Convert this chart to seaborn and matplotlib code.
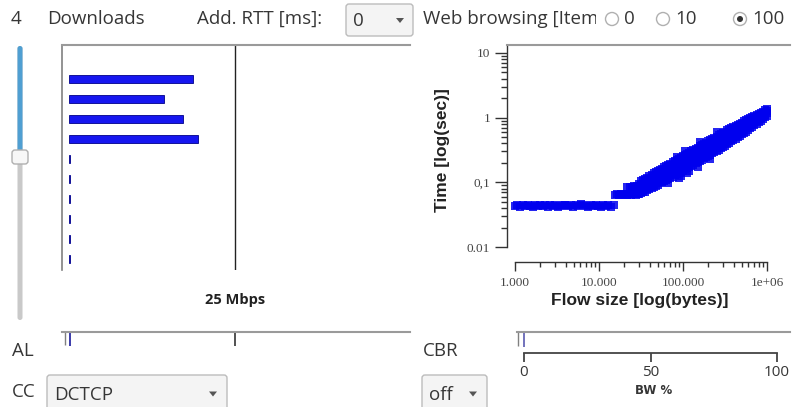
import matplotlib.pyplot as plt
import matplotlib.patches as mpatches
from matplotlib.ticker import FixedLocator, NullFormatter
import pandas as pd
import seaborn as sns

# ---- data ----
# download flows (Mbps), one bar per flow
flow_names = ["d1", "d2", "d3", "d4", "d5", "d6", "d7", "d8", "d9", "d10"]
flow_rates = [18.7, 14.3, 17.2, 19.4, 0.3, 0.3, 0.3, 0.3, 0.3, 0.3]
link_capacity = 25       # Mbps
al_value = 0.25          # AL marker (Mbps scale)
cbr_value = 0            # CBR marker (BW %)
bw_ticks = [0, 50, 100]

# web browsing: flow size (bytes) vs completion time (sec)
flat_x = [1000, 1070, 1150, 1230, 1320, 1410, 1510, 1620, 1740, 1860,
          2000, 2140, 2290, 2460, 2630, 2820, 3020, 3240, 3470, 3720,
          3990, 4270, 4580, 4910, 5260, 5640, 6040, 6470, 6940, 7440,
          7970, 8540, 9160, 9810, 10500, 11300, 12100, 12900, 13900, 14900]
flat_y = [0.043, 0.044, 0.042, 0.044, 0.043, 0.045, 0.043, 0.042, 0.044, 0.043,
          0.044, 0.043, 0.045, 0.042, 0.044, 0.043, 0.044, 0.042, 0.043, 0.045,
          0.044, 0.043, 0.044, 0.042, 0.045, 0.043, 0.047, 0.044, 0.043, 0.042,
          0.044, 0.043, 0.045, 0.043, 0.042, 0.044, 0.043, 0.044, 0.042, 0.045]
step1_x = [15500, 16400, 17300, 18300, 19400, 20500, 21700, 23000, 24300, 25700, 27200, 28800]
step1_y = [0.064, 0.066, 0.064, 0.065, 0.063, 0.066, 0.064, 0.065, 0.064, 0.066, 0.064, 0.065]
step2_x = [21800, 23100, 24500, 26000, 27500]
step2_y = [0.084, 0.086, 0.085, 0.087, 0.085]
rise_cols = [28200, 31600, 35500, 39800, 44700, 50100, 56200, 63100, 70800, 79400,
             89100, 100000, 112000, 126000, 141000, 158000, 178000, 200000, 224000, 251000,
             282000, 316000, 355000, 398000, 447000, 501000, 562000, 631000, 708000, 794000,
             891000, 1000000]
rise_times = [
    [0.070, 0.078, 0.088],
    [0.068, 0.080, 0.092, 0.105],
    [0.072, 0.086, 0.098, 0.112],
    [0.078, 0.092, 0.108, 0.124],
    [0.085, 0.100, 0.118, 0.138],
    [0.092, 0.108, 0.128, 0.150],
    [0.100, 0.118, 0.140, 0.163],
    [0.108, 0.128, 0.152, 0.178],
    [0.118, 0.140, 0.166, 0.195],
    [0.128, 0.152, 0.180, 0.212],
    [0.140, 0.165, 0.196, 0.232, 0.118],
    [0.152, 0.180, 0.214, 0.252],
    [0.165, 0.196, 0.234, 0.276, 0.140],
    [0.180, 0.214, 0.256, 0.300],
    [0.196, 0.234, 0.280, 0.328],
    [0.214, 0.256, 0.305, 0.360, 0.420],
    [0.234, 0.280, 0.334, 0.392],
    [0.256, 0.305, 0.365, 0.430],
    [0.280, 0.334, 0.400, 0.470],
    [0.305, 0.365, 0.435, 0.510, 0.600],
    [0.335, 0.400, 0.475, 0.560],
    [0.370, 0.440, 0.520, 0.610],
    [0.410, 0.480, 0.570, 0.660],
    [0.450, 0.530, 0.620, 0.720],
    [0.500, 0.580, 0.680, 0.780],
    [0.550, 0.640, 0.740, 0.840],
    [0.610, 0.700, 0.810, 0.910],
    [0.680, 0.770, 0.880, 0.980],
    [0.760, 0.850, 0.960, 1.060],
    [0.850, 0.940, 1.040, 1.140],
    [0.950, 1.040, 1.140, 1.230],
    [1.080, 1.170, 1.270, 1.360],
]
# flows that fall between the columns above
mid_cols = [29900, 33500, 37600, 42200, 47300, 53100, 59600, 66800, 75000, 84100,
            94400, 106000, 119000, 133000, 150000, 168000, 188000, 211000, 237000, 266000,
            298000, 335000, 376000, 422000, 473000, 531000, 596000, 668000, 750000, 841000,
            944000]
mid_times = [
    [0.066, 0.075, 0.084, 0.095],
    [0.070, 0.083, 0.095, 0.108],
    [0.075, 0.089, 0.103, 0.118],
    [0.081, 0.096, 0.113, 0.131],
    [0.088, 0.104, 0.123, 0.144],
    [0.096, 0.113, 0.134, 0.157],
    [0.104, 0.123, 0.146, 0.171],
    [0.113, 0.134, 0.159, 0.186, 0.098],
    [0.123, 0.146, 0.173, 0.204],
    [0.134, 0.158, 0.188, 0.222, 0.250],
    [0.146, 0.172, 0.205, 0.242, 0.125],
    [0.158, 0.188, 0.224, 0.264, 0.300],
    [0.172, 0.205, 0.245, 0.288, 0.150],
    [0.188, 0.224, 0.268, 0.314],
    [0.205, 0.245, 0.292, 0.344, 0.175],
    [0.224, 0.268, 0.320, 0.376],
    [0.245, 0.292, 0.349, 0.410],
    [0.268, 0.320, 0.382, 0.450, 0.230],
    [0.292, 0.349, 0.418, 0.490],
    [0.320, 0.382, 0.455, 0.535],
    [0.352, 0.420, 0.497, 0.585],
    [0.390, 0.460, 0.545, 0.635],
    [0.430, 0.505, 0.595, 0.690],
    [0.475, 0.555, 0.650, 0.750],
    [0.525, 0.610, 0.710, 0.810],
    [0.580, 0.670, 0.775, 0.875],
    [0.645, 0.735, 0.845, 0.945],
    [0.720, 0.810, 0.920, 1.020],
    [0.805, 0.895, 1.000, 1.100],
    [0.900, 0.990, 1.090, 1.190],
    [1.010, 1.100, 1.200, 1.300],
]
y_tick_vals = [0.01, 0.1, 1, 10]
y_tick_text = ["0.01", "0,1", "1", "10"]
x_tick_vals = [1000, 10000, 100000, 1000000]
x_tick_text = ["1.000", "10.000", "100.000", "1e+06"]

# ---- layout helpers (pixel boxes, y measured from the top) ----
W, H = 792, 407
GUI = "#363636"
GUI_FONT = ["Open Sans", "DejaVu Sans"]


def box(x0, y0, x1, y1):
    return [x0 / W, 1 - y1 / H, (x1 - x0) / W, (y1 - y0) / H]


sns.set_theme(style="white")
plt.rcParams["font.family"] = GUI_FONT

fig = plt.figure(figsize=(W / 100, H / 100), dpi=100, facecolor="white")

# widget layer
ui = fig.add_axes([0, 0, 1, 1])
ui.set_xlim(0, W)
ui.set_ylim(H, 0)
ui.axis("off")


def label(x, y, s, size=13.5, **kw):
    kw.setdefault("color", GUI)
    kw.setdefault("va", "center")
    return ui.text(x, y, s, fontsize=size, **kw)


def dropdown(x0, y0, x1, y1, s, arrow_x):
    ui.add_patch(mpatches.FancyBboxPatch((x0, y0), x1 - x0, y1 - y0,
                                         boxstyle="round,pad=0,rounding_size=3",
                                         fc="#f4f4f4", ec="#bcbcbc", lw=1))
    label(x0 + 7, (y0 + y1) / 2 + 1, s)
    cy = (y0 + y1) / 2
    ui.add_patch(mpatches.Polygon([(arrow_x - 4, cy - 2), (arrow_x + 4, cy - 2), (arrow_x, cy + 3)],
                                  closed=True, fc="#555555", ec="none"))


label(11, 19, "4")
label(47, 19, "Downloads")
label(197, 19, "Add. RTT [ms]:")
dropdown(346, 4, 413, 36, "0", 400)
web = label(423, 19, "Web browsing [Items]", clip_on=True)
web.set_clip_path(mpatches.Rectangle((420, 0), 176, 40, transform=ui.transData))
for cx, txt, on in [(612, "0", False), (663, "10", False), (740, "100", True)]:
    ui.add_patch(mpatches.Circle((cx, 19), 6.5, fc="white", ec="#b0b0b0", lw=1))
    if on:
        ui.add_patch(mpatches.Circle((cx, 19), 3, fc="#333333", ec="none"))
    label(cx + 12, 19, txt)

# vertical slider
ui.add_patch(mpatches.FancyBboxPatch((17.5, 46), 5, 274, boxstyle="round,pad=0,rounding_size=2.5",
                                     fc="#c9c9c9", ec="none"))
ui.add_patch(mpatches.FancyBboxPatch((17.5, 46), 5, 111, boxstyle="round,pad=0,rounding_size=2.5",
                                     fc="#4f9fd2", ec="none"))
ui.add_patch(mpatches.FancyBboxPatch((12, 150), 16, 14, boxstyle="round,pad=0,rounding_size=3",
                                     fc="#f7f7f7", ec="#b0b0b0", lw=1))

label(12, 351, "AL")
label(12, 392, "CC")
label(423, 351, "CBR")
dropdown(47, 375, 227, 412, "DCTCP", 213)
dropdown(422, 375, 487, 412, "off", 473)

# ---- download rates ----
px_per_mbps = (235 - 68.5) / link_capacity
bar_xlim = ((62 - 68.5) / px_per_mbps, (410 - 68.5) / px_per_mbps)

ax_bar = fig.add_axes(box(62, 45, 410, 270))
ax_bar.set_facecolor("none")
rates = pd.DataFrame({"flow": flow_names, "rate": flow_rates})
sns.barplot(data=rates, x="rate", y="flow", orient="h", color="#1616f0", saturation=1,
            width=0.38, edgecolor="#000088", linewidth=0.6, ax=ax_bar)
ax_bar.axvline(link_capacity, color="#222222", lw=1)
ax_bar.set_xlim(*bar_xlim)
ax_bar.set_ylim(9.55, -1.7)
ax_bar.set_xticks([])
ax_bar.set_yticks([])
ax_bar.set_xlabel("")
ax_bar.set_ylabel("")
for side in ["right", "bottom"]:
    ax_bar.spines[side].set_visible(False)
ax_bar.spines["top"].set_color("#9a9a9a")
ax_bar.spines["left"].set_color("#808080")
ax_bar.spines["top"].set_linewidth(1.5)
ax_bar.spines["left"].set_linewidth(1.2)
ax_bar.text(link_capacity, -0.133, f"{link_capacity} Mbps", transform=ax_bar.get_xaxis_transform(),
            ha="center", va="center", fontsize=10.5, fontweight="bold", color="#222222")

# AL strip
ax_al = fig.add_axes(box(62, 332, 410, 346))
ax_al.set_facecolor("none")
ax_al.set_xlim(*bar_xlim)
ax_al.set_ylim(0, 1)
ax_al.vlines([bar_xlim[0] + 0.45], 0.05, 1, color="#808080", lw=1)
ax_al.vlines([al_value], 0, 0.95, color="#1a1a9c", lw=1.2)
ax_al.vlines([link_capacity], 0, 1, color="#333333", lw=1.2)
ax_al.set_xticks([])
ax_al.set_yticks([])
for side in ["left", "right", "bottom"]:
    ax_al.spines[side].set_visible(False)
ax_al.spines["top"].set_color("#9a9a9a")
ax_al.spines["top"].set_linewidth(1.5)

# CBR strip + BW % axis
px_per_pct = (777 - 524) / 100
cbr_xlim = ((517 - 524) / px_per_pct, (790 - 524) / px_per_pct)
ax_cbr = fig.add_axes(box(517, 332, 790, 347))
ax_cbr.set_facecolor("none")
ax_cbr.set_xlim(*cbr_xlim)
ax_cbr.set_ylim(0, 1)
ax_cbr.vlines([cbr_xlim[0] + 0.3], 0.05, 1, color="#808080", lw=1)
ax_cbr.vlines([cbr_value], 0, 0.95, color="#5a5ab0", lw=1.2)
ax_cbr.set_xticks([])
ax_cbr.set_yticks([])
for side in ["left", "right", "bottom"]:
    ax_cbr.spines[side].set_visible(False)
ax_cbr.spines["top"].set_color("#9a9a9a")
ax_cbr.spines["top"].set_linewidth(1.5)

ax_bw = fig.add_axes(box(517, 349, 790, 353))
ax_bw.set_facecolor("none")
ax_bw.set_xlim(*cbr_xlim)
ax_bw.set_yticks([])
for side in ["left", "right", "top"]:
    ax_bw.spines[side].set_visible(False)
ax_bw.spines["bottom"].set_bounds(bw_ticks[0], bw_ticks[-1])
ax_bw.spines["bottom"].set_color("#444444")
ax_bw.spines["bottom"].set_linewidth(1.3)
ax_bw.set_xticks(bw_ticks)
ax_bw.set_xticklabels([str(t) for t in bw_ticks])
ax_bw.tick_params(axis="x", direction="out", length=6.5, width=1.3, color="#444444",
                  pad=2, labelsize=11, labelcolor=GUI, bottom=True)
ax_bw.set_xlabel("BW %", fontsize=8.5, fontweight="bold", color=GUI, labelpad=3,
                 family="DejaVu Sans")

# ---- web browsing scatter ----
rise_x = [x for x, ys in zip(rise_cols + mid_cols, rise_times + mid_times) for _ in ys]
rise_y = [y for ys in rise_times + mid_times for y in ys]
web_df = pd.DataFrame({
    "size": flat_x + step1_x + step2_x + rise_x,
    "time": flat_y + step1_y + step2_y + rise_y,
})

ax_sc = fig.add_axes(box(507, 45, 790, 262))
ax_sc.set_facecolor("none")
sns.scatterplot(data=web_df, x="size", y="time", marker="s", s=34, color="#0000ee",
                alpha=0.85, linewidth=0, ax=ax_sc)
ax_sc.set_xscale("log")
ax_sc.set_yscale("log")
ax_sc.set_xlim(10 ** (3 - 8 / 84), 10 ** (6 + 23 / 84))
ax_sc.set_ylim(10 ** (-2 - 15 / 64.67), 10 ** (1 + 8 / 64.67))

ax_sc.spines["right"].set_visible(False)
ax_sc.spines["top"].set_color("#9a9a9a")
ax_sc.spines["top"].set_linewidth(1.5)
for side in ["left", "bottom"]:
    ax_sc.spines[side].set_color("#333333")
    ax_sc.spines[side].set_linewidth(1)
ax_sc.spines["left"].set_bounds(0.01, ax_sc.get_ylim()[1])
ax_sc.spines["bottom"].set_bounds(1000, 1000000)

ax_sc.xaxis.set_major_locator(FixedLocator(x_tick_vals))
ax_sc.set_xticklabels(x_tick_text)
ax_sc.yaxis.set_major_locator(FixedLocator(y_tick_vals))
ax_sc.set_yticklabels(y_tick_text)
# minor ticks only within the drawn axis lines
ax_sc.xaxis.set_minor_locator(FixedLocator(
    [m * 10 ** e for e in range(3, 6) for m in range(2, 10)]))
ax_sc.yaxis.set_minor_locator(FixedLocator(
    [m * 10.0 ** e for e in range(-2, 1) for m in range(2, 10)]))
ax_sc.xaxis.set_minor_formatter(NullFormatter())
ax_sc.yaxis.set_minor_formatter(NullFormatter())
ax_sc.tick_params(axis="both", which="both", direction="out", color="#333333", width=1,
                  left=True, bottom=True, labelsize=9.5, labelcolor="#444444")
ax_sc.tick_params(axis="x", which="major", length=6.5, pad=4)
ax_sc.tick_params(axis="x", which="minor", length=3.6)
ax_sc.tick_params(axis="y", which="major", length=9, pad=3)
ax_sc.tick_params(axis="y", which="minor", length=4.5)
for t in ax_sc.get_xticklabels() + ax_sc.get_yticklabels():
    t.set_family(["Liberation Serif", "DejaVu Serif"])

ax_sc.set_xlabel("Flow size [log(bytes)]", fontsize=12.5, fontweight="bold", color="#222222",
                 family=["Liberation Sans", "DejaVu Sans"])
ax_sc.xaxis.set_label_coords((640 - 507) / 283, -(293 - 262) / 217)
ax_sc.set_ylabel("Time [log(sec)]", fontsize=12.5, fontweight="bold", color="#222222",
                 family=["Liberation Sans", "DejaVu Sans"])
ax_sc.yaxis.set_label_coords((450 - 507) / 283, 1 - (150 - 45) / 217)

fig.savefig("out.png", dpi=100, facecolor="white")
